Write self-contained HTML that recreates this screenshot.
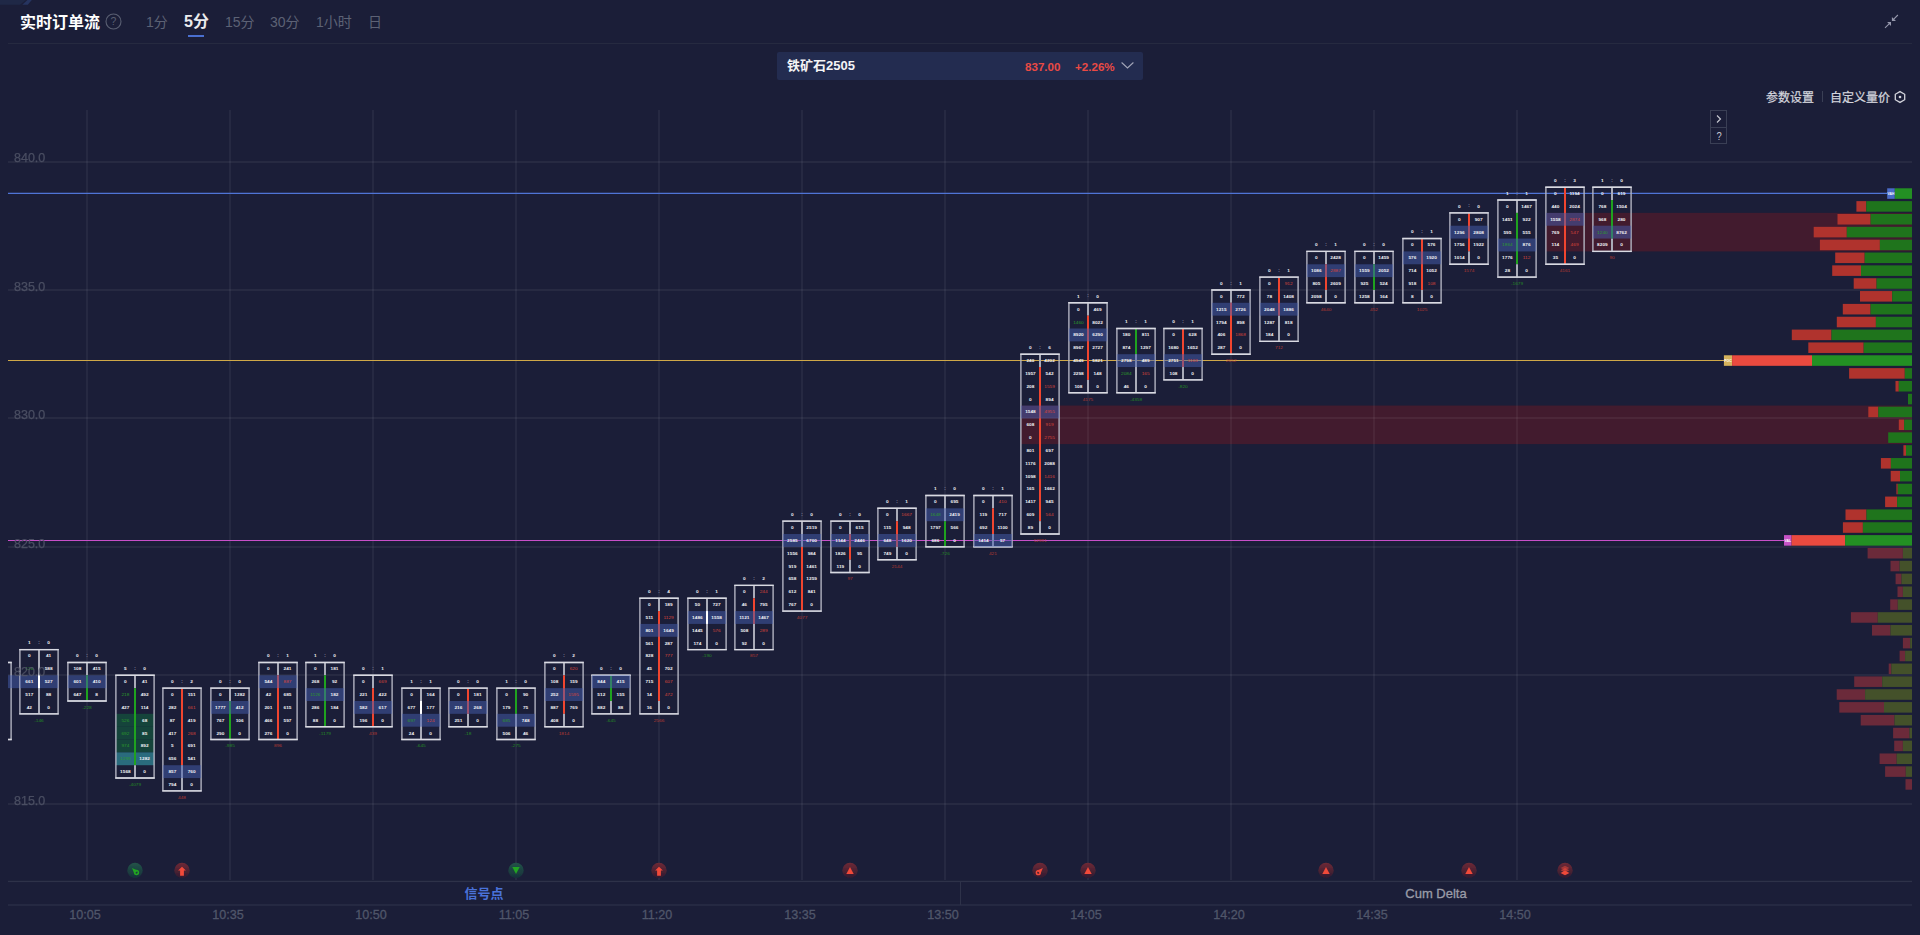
<!DOCTYPE html>
<html lang="zh-CN"><head><meta charset="utf-8"><title>实时订单流</title>
<style>
html,body{margin:0;padding:0}
body{width:1920px;height:935px;overflow:hidden;position:relative;background:#1b1e38;font-family:"Liberation Sans","Noto Sans CJK SC",sans-serif;color:#fff}
.abs{position:absolute;white-space:nowrap;line-height:1}
.chart{position:absolute;left:0;top:0}
.title{left:20px;top:15px;font-size:16px;font-weight:bold;color:#fff}
.tab{font-size:14px;color:#5d6275;top:15px}
.tab.on{font-size:16px;font-weight:bold;color:#ebebee;top:14px}
.hline{left:8px;top:43px;width:1904px;height:1px;background:#262a40}
.dd{left:777px;top:52px;width:366px;height:28px;background:#232c50;border-radius:2px}
.red{color:#ea4a44}
</style></head><body>
<svg class="abs" style="left:0;top:0" width="40" height="6" viewBox="0 0 40 6"><path d="M0 0H26L20 4.700H0Z" fill="#1f2846"/><path d="M27.400 0H31.800L27.800 4.700H22.300Z" fill="#26345f"/></svg>
<div class="abs title">实时订单流</div>
<svg class="abs" style="left:105.400px;top:13.300px" width="17" height="17" viewBox="0 0 17 17"><circle cx="8.5" cy="8.5" r="7.500" fill="none" stroke="#5a5f72" stroke-width="1.1"/><text x="8.5" y="12.2" font-size="10.5" text-anchor="middle" fill="#5a5f72" font-family="Liberation Sans, sans-serif">?</text></svg>
<div class="abs tab" style="left:146px">1分</div>
<div class="abs tab on" style="left:184px">5分</div>
<div class="abs" style="left:188px;top:35px;width:16px;height:2px;background:#4a6fd0"></div>
<div class="abs tab" style="left:225px">15分</div>
<div class="abs tab" style="left:270px">30分</div>
<div class="abs tab" style="left:316px">1小时</div>
<div class="abs tab" style="left:368px">日</div>
<svg class="abs" style="left:1883px;top:14px" width="16" height="16" viewBox="0 0 16 16"><path d="M14.900 1L10.500 5.400M2 13.900L6.400 9.600" stroke="#9698ac" stroke-width="1.1" fill="none"/><path d="M8.900 3V7H13Z M4.100 8.100H8V12Z" fill="#9698ac"/></svg>
<div class="abs hline"></div>
<div class="abs dd"></div>
<div class="abs" style="left:787px;top:59px;font-size:13px;font-weight:bold;color:#f3f3f5">铁矿石2505</div>
<div class="abs red" style="left:1025px;top:61px;font-size:11.6px;font-weight:bold">837.00</div>
<div class="abs red" style="left:1075px;top:61px;font-size:11.6px;font-weight:bold">+2.26%</div>
<svg class="abs" style="left:1121px;top:61px" width="13" height="9" viewBox="0 0 13 9"><path d="M0.600 1.500l5.900 5.500l5.900-5.500" fill="none" stroke="#a3a6b8" stroke-width="1.05"/></svg>
<div class="abs" style="left:1766px;top:92px;font-size:12px;color:#d3d4dc;-webkit-text-stroke:0.25px #d3d4dc">参数设置</div>
<div class="abs" style="left:1822px;top:91px;width:1px;height:11px;background:#3a3f55"></div>
<div class="abs" style="left:1830px;top:92px;font-size:12px;color:#d3d4dc;-webkit-text-stroke:0.25px #d3d4dc">自定义量价</div>
<svg class="abs" style="left:1893px;top:90px" width="14" height="14" viewBox="0 0 14 14"><path d="M7 1.600l4.700 2.700v5.400L7 12.400l-4.700-2.700V4.300z" fill="none" stroke="#d3d4dc" stroke-width="1.3"/><circle cx="7" cy="7" r="1.300" fill="#d3d4dc"/></svg>
<div class="abs" style="left:1710px;top:110px;width:17px;height:34px;border:1px solid #3a3f55;box-sizing:border-box"></div>
<div class="abs" style="left:1710px;top:127px;width:17px;height:1px;background:#3a3f55"></div>
<svg class="abs" style="left:1711px;top:111px" width="15" height="32" viewBox="0 0 15 32"><path d="M6 4.500l3.500 3.500l-3.500 3.500" fill="none" stroke="#c9cad3" stroke-width="1.1"/><text x="6.700" y="29.200" font-size="11" text-anchor="middle" fill="#c9cad3" transform="scale(0.85,1) translate(2.9,0)" font-family="Liberation Sans, sans-serif">?</text></svg>
<svg class="chart" width="1920" height="935" viewBox="0 0 1920 935" font-family="Liberation Sans, sans-serif">
<defs><clipPath id="cp"><rect x="8" y="100" width="1904" height="790"/></clipPath></defs>
<rect x="1545.9" y="212.88" width="366.1" height="38.54" fill="rgba(170,20,20,0.28)"/>
<rect x="1020.9" y="405.56" width="891.1" height="38.54" fill="rgba(170,20,20,0.28)"/>
<g shape-rendering="crispEdges">
<rect x="86" y="110" width="2" height="770" fill="rgba(255,255,255,0.05)"/>
<rect x="229" y="110" width="2" height="770" fill="rgba(255,255,255,0.05)"/>
<rect x="372" y="110" width="2" height="770" fill="rgba(255,255,255,0.05)"/>
<rect x="515" y="110" width="2" height="770" fill="rgba(255,255,255,0.05)"/>
<rect x="658" y="110" width="2" height="770" fill="rgba(255,255,255,0.05)"/>
<rect x="801" y="110" width="2" height="770" fill="rgba(255,255,255,0.05)"/>
<rect x="944" y="110" width="2" height="770" fill="rgba(255,255,255,0.05)"/>
<rect x="1087" y="110" width="2" height="770" fill="rgba(255,255,255,0.05)"/>
<rect x="1230" y="110" width="2" height="770" fill="rgba(255,255,255,0.05)"/>
<rect x="1373" y="110" width="2" height="770" fill="rgba(255,255,255,0.05)"/>
<rect x="1516" y="110" width="2" height="770" fill="rgba(255,255,255,0.05)"/>
<rect x="8" y="161" width="1904" height="2" fill="rgba(255,255,255,0.055)"/>
<rect x="8" y="289" width="1904" height="2" fill="rgba(255,255,255,0.055)"/>
<rect x="8" y="417" width="1904" height="2" fill="rgba(255,255,255,0.055)"/>
<rect x="8" y="546" width="1904" height="2" fill="rgba(255,255,255,0.055)"/>
<rect x="8" y="674" width="1904" height="2" fill="rgba(255,255,255,0.055)"/>
<rect x="8" y="803" width="1904" height="2" fill="rgba(255,255,255,0.055)"/>
</g>
<line x1="8" y1="193.4" x2="1888" y2="193.4" stroke="#4f74d6" stroke-width="1.1"/>
<line x1="8" y1="360.5" x2="1724" y2="360.5" stroke="#cfa848" stroke-width="1.1"/>
<line x1="8" y1="540.5" x2="1784" y2="540.5" stroke="#c84fc8" stroke-width="1.1"/>
<g clip-path="url(#cp)">
<rect x="-9.0" y="662.46" width="2" height="77.07" fill="#a9abb8"/>
<rect x="-27.1" y="662.46" width="38.2" height="77.07" fill="none" stroke="#b6b8c6" stroke-width="1.35"/>
<path d="M-27.75 662.46 h39.50 M-27.75 739.53 h39.50" stroke="#d9dae2" stroke-width="1.4" fill="none"/>
<rect x="-27.1" y="675.30" width="47.2" height="12.85" fill="rgba(69,94,174,0.5)"/>
<g font-size="4.10" font-weight="bold" text-anchor="middle" fill="#f2f2f5" transform="scale(1.160,1)">
<text x="-15.2" y="670.4">0</text>
<text x="1.4" y="670.4">12</text>
<text x="-15.2" y="683.2">318</text>
<text x="1.4" y="683.2">204</text>
<text x="-15.2" y="696.1">77</text>
<text x="1.4" y="696.1">95</text>
<text x="-15.2" y="708.9">120</text>
<text x="1.4" y="708.9">61</text>
<text x="-15.2" y="721.8">45</text>
<text x="1.4" y="721.8">33</text>
<text x="-15.2" y="734.6">9</text>
<text x="1.4" y="734.6">0</text>
<text x="-15.2" y="657.4">0</text><text x="-6.9" y="657.1" fill="#7d8096" font-size="5.2">:</text><text x="1.4" y="657.4">0</text>
</g>
<rect x="38.0" y="649.61" width="2" height="64.23" fill="#a9abb8"/>
<rect x="19.9" y="649.61" width="38.2" height="64.23" fill="none" stroke="#b6b8c6" stroke-width="1.35"/>
<path d="M19.25 649.61 h39.50 M19.25 713.84 h39.50" stroke="#d9dae2" stroke-width="1.4" fill="none"/>
<rect x="19.9" y="675.30" width="38.2" height="12.85" fill="rgba(69,94,174,0.5)"/>
<rect x="38.0" y="675.30" width="2" height="12.85" fill="#ffffff"/>
<g font-size="4.10" font-weight="bold" text-anchor="middle" fill="#f2f2f5" transform="scale(1.160,1)">
<text x="25.3" y="657.5">0</text>
<text x="41.9" y="657.5">41</text>
<text x="25.3" y="670.4" fill="#2b9a2b" font-weight="normal">126</text>
<text x="41.9" y="670.4">588</text>
<text x="25.3" y="683.2">661</text>
<text x="41.9" y="683.2">527</text>
<text x="25.3" y="696.1">517</text>
<text x="41.9" y="696.1">88</text>
<text x="25.3" y="708.9">42</text>
<text x="41.9" y="708.9">0</text>
<text x="25.3" y="644.5">1</text><text x="33.6" y="644.2" fill="#7d8096" font-size="5.2">:</text><text x="41.9" y="644.5">0</text>
</g>
<text x="33.6" y="721.7" font-size="4.10" text-anchor="middle" fill="#238a23" transform="scale(1.160,1)">-146</text>
<rect x="86.0" y="662.46" width="2" height="12.85" fill="#a9abb8"/>
<rect x="86.0" y="675.30" width="2" height="25.69" fill="#1fa21f"/>
<rect x="67.9" y="662.46" width="38.2" height="38.54" fill="none" stroke="#b6b8c6" stroke-width="1.35"/>
<path d="M67.25 662.46 h39.50 M67.25 700.99 h39.50" stroke="#d9dae2" stroke-width="1.4" fill="none"/>
<rect x="67.9" y="675.30" width="38.2" height="12.85" fill="rgba(69,94,174,0.5)"/>
<g font-size="4.10" font-weight="bold" text-anchor="middle" fill="#f2f2f5" transform="scale(1.160,1)">
<text x="66.7" y="670.4">108</text>
<text x="83.3" y="670.4">415</text>
<text x="66.7" y="683.2">601</text>
<text x="83.3" y="683.2">410</text>
<text x="66.7" y="696.1">647</text>
<text x="83.3" y="696.1">8</text>
<text x="66.7" y="657.4">0</text><text x="75.0" y="657.1" fill="#7d8096" font-size="5.2">:</text><text x="83.3" y="657.4">0</text>
</g>
<text x="75.0" y="708.9" font-size="4.10" text-anchor="middle" fill="#238a23" transform="scale(1.160,1)">-228</text>
<rect x="115.9" y="713.84" width="38.2" height="12.85" fill="#15443b"/>
<rect x="115.9" y="726.68" width="38.2" height="12.85" fill="#15443b"/>
<rect x="115.9" y="739.53" width="38.2" height="12.85" fill="#15443b"/>
<rect x="115.9" y="752.37" width="38.2" height="12.85" fill="#2a6b7d"/>
<rect x="134.0" y="675.30" width="2" height="12.85" fill="#a9abb8"/>
<rect x="134.0" y="688.15" width="2" height="77.07" fill="#1fa21f"/>
<rect x="134.0" y="765.22" width="2" height="12.85" fill="#a9abb8"/>
<rect x="115.9" y="675.30" width="38.2" height="102.76" fill="none" stroke="#b6b8c6" stroke-width="1.35"/>
<path d="M115.25 675.30 h39.50 M115.25 778.06 h39.50" stroke="#d9dae2" stroke-width="1.4" fill="none"/>
<g font-size="4.10" font-weight="bold" text-anchor="middle" fill="#f2f2f5" transform="scale(1.160,1)">
<text x="108.1" y="683.2">0</text>
<text x="124.7" y="683.2">41</text>
<text x="108.1" y="696.1" fill="#2b9a2b" font-weight="normal">218</text>
<text x="124.7" y="696.1">492</text>
<text x="108.1" y="708.9">427</text>
<text x="124.7" y="708.9">114</text>
<text x="108.1" y="721.8" fill="#2b9a2b" font-weight="normal">526</text>
<text x="124.7" y="721.8">68</text>
<text x="108.1" y="734.6" fill="#2b9a2b" font-weight="normal">692</text>
<text x="124.7" y="734.6">85</text>
<text x="108.1" y="747.4" fill="#2b9a2b" font-weight="normal">974</text>
<text x="124.7" y="747.4">892</text>
<text x="108.1" y="760.3" fill="#2b9a2b" font-weight="normal">1299</text>
<text x="124.7" y="760.3">1282</text>
<text x="108.1" y="773.1">1568</text>
<text x="124.7" y="773.1">0</text>
<text x="108.1" y="670.2">5</text><text x="116.4" y="669.9" fill="#7d8096" font-size="5.2">:</text><text x="124.7" y="670.2">0</text>
</g>
<text x="116.4" y="786.0" font-size="4.10" text-anchor="middle" fill="#238a23" transform="scale(1.160,1)">-4079</text>
<rect x="181.0" y="688.14" width="2" height="77.07" fill="#f0452f"/>
<rect x="181.0" y="765.22" width="2" height="25.69" fill="#a9abb8"/>
<rect x="162.9" y="688.14" width="38.2" height="102.76" fill="none" stroke="#b6b8c6" stroke-width="1.35"/>
<path d="M162.25 688.14 h39.50 M162.25 790.90 h39.50" stroke="#d9dae2" stroke-width="1.4" fill="none"/>
<rect x="162.9" y="765.22" width="38.2" height="12.85" fill="rgba(69,94,174,0.5)"/>
<g font-size="4.10" font-weight="bold" text-anchor="middle" fill="#f2f2f5" transform="scale(1.160,1)">
<text x="148.6" y="696.1">0</text>
<text x="165.2" y="696.1">151</text>
<text x="148.6" y="708.9">282</text>
<text x="165.2" y="708.9" fill="#d8453a" font-weight="normal">661</text>
<text x="148.6" y="721.8">87</text>
<text x="165.2" y="721.8">419</text>
<text x="148.6" y="734.6">417</text>
<text x="165.2" y="734.6" fill="#d8453a" font-weight="normal">268</text>
<text x="148.6" y="747.4">5</text>
<text x="165.2" y="747.4">691</text>
<text x="148.6" y="760.3">656</text>
<text x="165.2" y="760.3">541</text>
<text x="148.6" y="773.1">857</text>
<text x="165.2" y="773.1">760</text>
<text x="148.6" y="786.0">794</text>
<text x="165.2" y="786.0">0</text>
<text x="148.6" y="683.0">0</text><text x="156.9" y="682.7" fill="#7d8096" font-size="5.2">:</text><text x="165.2" y="683.0">2</text>
</g>
<text x="156.9" y="798.8" font-size="4.10" text-anchor="middle" fill="#b53a32" transform="scale(1.160,1)">448</text>
<rect x="229.0" y="688.14" width="2" height="12.85" fill="#a9abb8"/>
<rect x="229.0" y="700.99" width="2" height="38.54" fill="#1fa21f"/>
<rect x="210.9" y="688.14" width="38.2" height="51.38" fill="none" stroke="#b6b8c6" stroke-width="1.35"/>
<path d="M210.25 688.14 h39.50 M210.25 739.52 h39.50" stroke="#d9dae2" stroke-width="1.4" fill="none"/>
<rect x="210.9" y="700.99" width="38.2" height="12.85" fill="rgba(69,94,174,0.5)"/>
<g font-size="4.10" font-weight="bold" text-anchor="middle" fill="#f2f2f5" transform="scale(1.160,1)">
<text x="190.0" y="696.1">0</text>
<text x="206.6" y="696.1">1282</text>
<text x="190.0" y="708.9">1777</text>
<text x="206.6" y="708.9">412</text>
<text x="190.0" y="721.8">767</text>
<text x="206.6" y="721.8">106</text>
<text x="190.0" y="734.6">290</text>
<text x="206.6" y="734.6">0</text>
<text x="190.0" y="683.0">0</text><text x="198.3" y="682.7" fill="#7d8096" font-size="5.2">:</text><text x="206.6" y="683.0">0</text>
</g>
<text x="198.3" y="747.4" font-size="4.10" text-anchor="middle" fill="#238a23" transform="scale(1.160,1)">-985</text>
<rect x="277.0" y="662.46" width="2" height="12.85" fill="#a9abb8"/>
<rect x="277.0" y="675.30" width="2" height="64.23" fill="#f0452f"/>
<rect x="258.9" y="662.46" width="38.2" height="77.07" fill="none" stroke="#b6b8c6" stroke-width="1.35"/>
<path d="M258.25 662.46 h39.50 M258.25 739.53 h39.50" stroke="#d9dae2" stroke-width="1.4" fill="none"/>
<rect x="258.9" y="675.30" width="38.2" height="12.85" fill="rgba(69,94,174,0.5)"/>
<g font-size="4.10" font-weight="bold" text-anchor="middle" fill="#f2f2f5" transform="scale(1.160,1)">
<text x="231.4" y="670.4">0</text>
<text x="247.9" y="670.4">241</text>
<text x="231.4" y="683.2">544</text>
<text x="247.9" y="683.2" fill="#d8453a" font-weight="normal">887</text>
<text x="231.4" y="696.1">42</text>
<text x="247.9" y="696.1">685</text>
<text x="231.4" y="708.9">201</text>
<text x="247.9" y="708.9">615</text>
<text x="231.4" y="721.8">466</text>
<text x="247.9" y="721.8">597</text>
<text x="231.4" y="734.6">276</text>
<text x="247.9" y="734.6">0</text>
<text x="231.4" y="657.4">0</text><text x="239.7" y="657.1" fill="#7d8096" font-size="5.2">:</text><text x="247.9" y="657.4">1</text>
</g>
<text x="239.7" y="747.4" font-size="4.10" text-anchor="middle" fill="#b53a32" transform="scale(1.160,1)">896</text>
<rect x="324.0" y="662.46" width="2" height="12.85" fill="#a9abb8"/>
<rect x="324.0" y="675.30" width="2" height="51.38" fill="#1fa21f"/>
<rect x="305.9" y="662.46" width="38.2" height="64.23" fill="none" stroke="#b6b8c6" stroke-width="1.35"/>
<path d="M305.25 662.46 h39.50 M305.25 726.68 h39.50" stroke="#d9dae2" stroke-width="1.4" fill="none"/>
<rect x="305.9" y="688.15" width="38.2" height="12.85" fill="rgba(69,94,174,0.5)"/>
<g font-size="4.10" font-weight="bold" text-anchor="middle" fill="#f2f2f5" transform="scale(1.160,1)">
<text x="271.9" y="670.4">0</text>
<text x="288.4" y="670.4">181</text>
<text x="271.9" y="683.2">268</text>
<text x="288.4" y="683.2">92</text>
<text x="271.9" y="696.1" fill="#2b9a2b" font-weight="normal">1126</text>
<text x="288.4" y="696.1">182</text>
<text x="271.9" y="708.9">286</text>
<text x="288.4" y="708.9">184</text>
<text x="271.9" y="721.8">88</text>
<text x="288.4" y="721.8">0</text>
<text x="271.9" y="657.4">1</text><text x="280.2" y="657.1" fill="#7d8096" font-size="5.2">:</text><text x="288.4" y="657.4">0</text>
</g>
<text x="280.2" y="734.6" font-size="4.10" text-anchor="middle" fill="#238a23" transform="scale(1.160,1)">-1179</text>
<rect x="372.0" y="675.30" width="2" height="12.85" fill="#a9abb8"/>
<rect x="372.0" y="688.15" width="2" height="38.54" fill="#f0452f"/>
<rect x="353.9" y="675.30" width="38.2" height="51.38" fill="none" stroke="#b6b8c6" stroke-width="1.35"/>
<path d="M353.25 675.30 h39.50 M353.25 726.68 h39.50" stroke="#d9dae2" stroke-width="1.4" fill="none"/>
<rect x="353.9" y="700.99" width="38.2" height="12.85" fill="rgba(69,94,174,0.5)"/>
<g font-size="4.10" font-weight="bold" text-anchor="middle" fill="#f2f2f5" transform="scale(1.160,1)">
<text x="313.3" y="683.2">0</text>
<text x="329.8" y="683.2" fill="#d8453a" font-weight="normal">669</text>
<text x="313.3" y="696.1">221</text>
<text x="329.8" y="696.1">422</text>
<text x="313.3" y="708.9">582</text>
<text x="329.8" y="708.9">617</text>
<text x="313.3" y="721.8">196</text>
<text x="329.8" y="721.8">0</text>
<text x="313.3" y="670.2">0</text><text x="321.6" y="669.9" fill="#7d8096" font-size="5.2">:</text><text x="329.8" y="670.2">1</text>
</g>
<text x="321.6" y="734.6" font-size="4.10" text-anchor="middle" fill="#b53a32" transform="scale(1.160,1)">439</text>
<rect x="420.0" y="688.14" width="2" height="51.38" fill="#a9abb8"/>
<rect x="401.9" y="688.14" width="38.2" height="51.38" fill="none" stroke="#b6b8c6" stroke-width="1.35"/>
<path d="M401.25 688.14 h39.50 M401.25 739.52 h39.50" stroke="#d9dae2" stroke-width="1.4" fill="none"/>
<rect x="401.9" y="713.84" width="38.2" height="12.85" fill="rgba(69,94,174,0.5)"/>
<rect x="420.0" y="700.99" width="2" height="12.85" fill="#ffffff"/>
<g font-size="4.10" font-weight="bold" text-anchor="middle" fill="#f2f2f5" transform="scale(1.160,1)">
<text x="354.7" y="696.1">0</text>
<text x="371.2" y="696.1">164</text>
<text x="354.7" y="708.9">677</text>
<text x="371.2" y="708.9">177</text>
<text x="354.7" y="721.8" fill="#2b9a2b" font-weight="normal">697</text>
<text x="371.2" y="721.8" fill="#d8453a" font-weight="normal">124</text>
<text x="354.7" y="734.6">24</text>
<text x="371.2" y="734.6">0</text>
<text x="354.7" y="683.0">1</text><text x="362.9" y="682.7" fill="#7d8096" font-size="5.2">:</text><text x="371.2" y="683.0">1</text>
</g>
<text x="362.9" y="747.4" font-size="4.10" text-anchor="middle" fill="#238a23" transform="scale(1.160,1)">-645</text>
<rect x="467.0" y="688.14" width="2" height="25.69" fill="#f0452f"/>
<rect x="467.0" y="713.84" width="2" height="12.85" fill="#a9abb8"/>
<rect x="448.9" y="688.14" width="38.2" height="38.54" fill="none" stroke="#b6b8c6" stroke-width="1.35"/>
<path d="M448.25 688.14 h39.50 M448.25 726.68 h39.50" stroke="#d9dae2" stroke-width="1.4" fill="none"/>
<rect x="448.9" y="700.99" width="38.2" height="12.85" fill="rgba(69,94,174,0.5)"/>
<g font-size="4.10" font-weight="bold" text-anchor="middle" fill="#f2f2f5" transform="scale(1.160,1)">
<text x="395.2" y="696.1">0</text>
<text x="411.7" y="696.1">181</text>
<text x="395.2" y="708.9">216</text>
<text x="411.7" y="708.9">268</text>
<text x="395.2" y="721.8">251</text>
<text x="411.7" y="721.8">0</text>
<text x="395.2" y="683.0">0</text><text x="403.4" y="682.7" fill="#7d8096" font-size="5.2">:</text><text x="411.7" y="683.0">0</text>
</g>
<text x="403.4" y="734.6" font-size="4.10" text-anchor="middle" fill="#238a23" transform="scale(1.160,1)">-18</text>
<rect x="515.0" y="688.14" width="2" height="25.69" fill="#1fa21f"/>
<rect x="515.0" y="713.84" width="2" height="25.69" fill="#a9abb8"/>
<rect x="496.9" y="688.14" width="38.2" height="51.38" fill="none" stroke="#b6b8c6" stroke-width="1.35"/>
<path d="M496.25 688.14 h39.50 M496.25 739.52 h39.50" stroke="#d9dae2" stroke-width="1.4" fill="none"/>
<rect x="496.9" y="713.84" width="38.2" height="12.85" fill="rgba(69,94,174,0.5)"/>
<g font-size="4.10" font-weight="bold" text-anchor="middle" fill="#f2f2f5" transform="scale(1.160,1)">
<text x="436.6" y="696.1">0</text>
<text x="453.1" y="696.1">90</text>
<text x="436.6" y="708.9">179</text>
<text x="453.1" y="708.9">75</text>
<text x="436.6" y="721.8" fill="#2b9a2b" font-weight="normal">685</text>
<text x="453.1" y="721.8">748</text>
<text x="436.6" y="734.6">506</text>
<text x="453.1" y="734.6">46</text>
<text x="436.6" y="683.0">1</text><text x="444.8" y="682.7" fill="#7d8096" font-size="5.2">:</text><text x="453.1" y="683.0">0</text>
</g>
<text x="444.8" y="747.4" font-size="4.10" text-anchor="middle" fill="#238a23" transform="scale(1.160,1)">-275</text>
<rect x="563.0" y="662.46" width="2" height="12.85" fill="#a9abb8"/>
<rect x="563.0" y="675.30" width="2" height="38.54" fill="#f0452f"/>
<rect x="563.0" y="713.84" width="2" height="12.85" fill="#a9abb8"/>
<rect x="544.9" y="662.46" width="38.2" height="64.23" fill="none" stroke="#b6b8c6" stroke-width="1.35"/>
<path d="M544.25 662.46 h39.50 M544.25 726.68 h39.50" stroke="#d9dae2" stroke-width="1.4" fill="none"/>
<rect x="544.9" y="688.15" width="38.2" height="12.85" fill="rgba(69,94,174,0.5)"/>
<g font-size="4.10" font-weight="bold" text-anchor="middle" fill="#f2f2f5" transform="scale(1.160,1)">
<text x="477.9" y="670.4">0</text>
<text x="494.5" y="670.4" fill="#d8453a" font-weight="normal">620</text>
<text x="477.9" y="683.2">108</text>
<text x="494.5" y="683.2">159</text>
<text x="477.9" y="696.1">252</text>
<text x="494.5" y="696.1" fill="#d8453a" font-weight="normal">1595</text>
<text x="477.9" y="708.9">887</text>
<text x="494.5" y="708.9">769</text>
<text x="477.9" y="721.8">408</text>
<text x="494.5" y="721.8">0</text>
<text x="477.9" y="657.4">0</text><text x="486.2" y="657.1" fill="#7d8096" font-size="5.2">:</text><text x="494.5" y="657.4">2</text>
</g>
<text x="486.2" y="734.6" font-size="4.10" text-anchor="middle" fill="#b53a32" transform="scale(1.160,1)">1814</text>
<rect x="610.0" y="675.30" width="2" height="25.69" fill="#1fa21f"/>
<rect x="610.0" y="700.99" width="2" height="12.85" fill="#a9abb8"/>
<rect x="591.9" y="675.30" width="38.2" height="38.54" fill="none" stroke="#b6b8c6" stroke-width="1.35"/>
<path d="M591.25 675.30 h39.50 M591.25 713.84 h39.50" stroke="#d9dae2" stroke-width="1.4" fill="none"/>
<rect x="591.9" y="675.30" width="38.2" height="12.85" fill="rgba(69,94,174,0.5)"/>
<g font-size="4.10" font-weight="bold" text-anchor="middle" fill="#f2f2f5" transform="scale(1.160,1)">
<text x="518.4" y="683.2">844</text>
<text x="535.0" y="683.2">415</text>
<text x="518.4" y="696.1">512</text>
<text x="535.0" y="696.1">155</text>
<text x="518.4" y="708.9">882</text>
<text x="535.0" y="708.9">88</text>
<text x="518.4" y="670.2">0</text><text x="526.7" y="669.9" fill="#7d8096" font-size="5.2">:</text><text x="535.0" y="670.2">0</text>
</g>
<text x="526.7" y="721.7" font-size="4.10" text-anchor="middle" fill="#238a23" transform="scale(1.160,1)">-645</text>
<rect x="658.0" y="598.23" width="2" height="12.85" fill="#a9abb8"/>
<rect x="658.0" y="611.08" width="2" height="89.92" fill="#f0452f"/>
<rect x="658.0" y="700.99" width="2" height="12.85" fill="#a9abb8"/>
<rect x="639.9" y="598.23" width="38.2" height="115.61" fill="none" stroke="#b6b8c6" stroke-width="1.35"/>
<path d="M639.25 598.23 h39.50 M639.25 713.84 h39.50" stroke="#d9dae2" stroke-width="1.4" fill="none"/>
<rect x="639.9" y="623.92" width="38.2" height="12.85" fill="rgba(69,94,174,0.5)"/>
<g font-size="4.10" font-weight="bold" text-anchor="middle" fill="#f2f2f5" transform="scale(1.160,1)">
<text x="559.8" y="606.2">0</text>
<text x="576.4" y="606.2">189</text>
<text x="559.8" y="619.0">511</text>
<text x="576.4" y="619.0" fill="#d8453a" font-weight="normal">1129</text>
<text x="559.8" y="631.8">801</text>
<text x="576.4" y="631.8">1649</text>
<text x="559.8" y="644.7">561</text>
<text x="576.4" y="644.7">287</text>
<text x="559.8" y="657.5">828</text>
<text x="576.4" y="657.5" fill="#d8453a" font-weight="normal">777</text>
<text x="559.8" y="670.4">45</text>
<text x="576.4" y="670.4">702</text>
<text x="559.8" y="683.2">715</text>
<text x="576.4" y="683.2" fill="#d8453a" font-weight="normal">607</text>
<text x="559.8" y="696.1">14</text>
<text x="576.4" y="696.1" fill="#d8453a" font-weight="normal">472</text>
<text x="559.8" y="708.9">16</text>
<text x="576.4" y="708.9">0</text>
<text x="559.8" y="593.1">0</text><text x="568.1" y="592.8" fill="#7d8096" font-size="5.2">:</text><text x="576.4" y="593.1">4</text>
</g>
<text x="568.1" y="721.7" font-size="4.10" text-anchor="middle" fill="#b53a32" transform="scale(1.160,1)">2566</text>
<rect x="706.0" y="598.23" width="2" height="51.38" fill="#a9abb8"/>
<rect x="687.9" y="598.23" width="38.2" height="51.38" fill="none" stroke="#b6b8c6" stroke-width="1.35"/>
<path d="M687.25 598.23 h39.50 M687.25 649.61 h39.50" stroke="#d9dae2" stroke-width="1.4" fill="none"/>
<rect x="687.9" y="611.08" width="38.2" height="12.85" fill="rgba(69,94,174,0.5)"/>
<rect x="706.0" y="611.08" width="2" height="12.85" fill="#ffffff"/>
<g font-size="4.10" font-weight="bold" text-anchor="middle" fill="#f2f2f5" transform="scale(1.160,1)">
<text x="601.2" y="606.2">50</text>
<text x="617.8" y="606.2">727</text>
<text x="601.2" y="619.0">1486</text>
<text x="617.8" y="619.0">1558</text>
<text x="601.2" y="631.8">1445</text>
<text x="617.8" y="631.8" fill="#d8453a" font-weight="normal">576</text>
<text x="601.2" y="644.7">174</text>
<text x="617.8" y="644.7">0</text>
<text x="601.2" y="593.1">0</text><text x="609.5" y="592.8" fill="#7d8096" font-size="5.2">:</text><text x="617.8" y="593.1">1</text>
</g>
<text x="609.5" y="657.5" font-size="4.10" text-anchor="middle" fill="#238a23" transform="scale(1.160,1)">-190</text>
<rect x="753.0" y="585.38" width="2" height="12.85" fill="#a9abb8"/>
<rect x="753.0" y="598.23" width="2" height="25.69" fill="#f0452f"/>
<rect x="753.0" y="623.92" width="2" height="25.69" fill="#a9abb8"/>
<rect x="734.9" y="585.38" width="38.2" height="64.23" fill="none" stroke="#b6b8c6" stroke-width="1.35"/>
<path d="M734.25 585.38 h39.50 M734.25 649.61 h39.50" stroke="#d9dae2" stroke-width="1.4" fill="none"/>
<rect x="734.9" y="611.08" width="38.2" height="12.85" fill="rgba(69,94,174,0.5)"/>
<g font-size="4.10" font-weight="bold" text-anchor="middle" fill="#f2f2f5" transform="scale(1.160,1)">
<text x="641.7" y="593.3">0</text>
<text x="658.3" y="593.3" fill="#d8453a" font-weight="normal">244</text>
<text x="641.7" y="606.2">46</text>
<text x="658.3" y="606.2">795</text>
<text x="641.7" y="619.0">1121</text>
<text x="658.3" y="619.0">1467</text>
<text x="641.7" y="631.8">508</text>
<text x="658.3" y="631.8" fill="#d8453a" font-weight="normal">289</text>
<text x="641.7" y="644.7">92</text>
<text x="658.3" y="644.7">0</text>
<text x="641.7" y="580.3">0</text><text x="650.0" y="580.0" fill="#7d8096" font-size="5.2">:</text><text x="658.3" y="580.3">2</text>
</g>
<text x="650.0" y="657.5" font-size="4.10" text-anchor="middle" fill="#b53a32" transform="scale(1.160,1)">857</text>
<rect x="801.0" y="521.16" width="2" height="25.69" fill="#a9abb8"/>
<rect x="801.0" y="546.85" width="2" height="64.23" fill="#f0452f"/>
<rect x="782.9" y="521.16" width="38.2" height="89.92" fill="none" stroke="#b6b8c6" stroke-width="1.35"/>
<path d="M782.25 521.16 h39.50 M782.25 611.08 h39.50" stroke="#d9dae2" stroke-width="1.4" fill="none"/>
<rect x="782.9" y="534.01" width="38.2" height="12.85" fill="rgba(69,94,174,0.5)"/>
<g font-size="4.10" font-weight="bold" text-anchor="middle" fill="#f2f2f5" transform="scale(1.160,1)">
<text x="683.1" y="529.1">0</text>
<text x="699.7" y="529.1">2519</text>
<text x="683.1" y="541.9">2585</text>
<text x="699.7" y="541.9">6700</text>
<text x="683.1" y="554.8">1556</text>
<text x="699.7" y="554.8">984</text>
<text x="683.1" y="567.6">919</text>
<text x="699.7" y="567.6">1461</text>
<text x="683.1" y="580.5">658</text>
<text x="699.7" y="580.5">1259</text>
<text x="683.1" y="593.3">612</text>
<text x="699.7" y="593.3">841</text>
<text x="683.1" y="606.2">767</text>
<text x="699.7" y="606.2">0</text>
<text x="683.1" y="516.1">0</text><text x="691.4" y="515.8" fill="#7d8096" font-size="5.2">:</text><text x="699.7" y="516.1">0</text>
</g>
<text x="691.4" y="619.0" font-size="4.10" text-anchor="middle" fill="#b53a32" transform="scale(1.160,1)">4077</text>
<rect x="849.0" y="521.16" width="2" height="12.85" fill="#a9abb8"/>
<rect x="849.0" y="534.01" width="2" height="25.69" fill="#f0452f"/>
<rect x="849.0" y="559.70" width="2" height="12.85" fill="#a9abb8"/>
<rect x="830.9" y="521.16" width="38.2" height="51.38" fill="none" stroke="#b6b8c6" stroke-width="1.35"/>
<path d="M830.25 521.16 h39.50 M830.25 572.54 h39.50" stroke="#d9dae2" stroke-width="1.4" fill="none"/>
<rect x="830.9" y="534.01" width="38.2" height="12.85" fill="rgba(69,94,174,0.5)"/>
<g font-size="4.10" font-weight="bold" text-anchor="middle" fill="#f2f2f5" transform="scale(1.160,1)">
<text x="724.5" y="529.1">0</text>
<text x="741.0" y="529.1">615</text>
<text x="724.5" y="541.9">1144</text>
<text x="741.0" y="541.9">2446</text>
<text x="724.5" y="554.8">1826</text>
<text x="741.0" y="554.8">95</text>
<text x="724.5" y="567.6">119</text>
<text x="741.0" y="567.6">0</text>
<text x="724.5" y="516.1">0</text><text x="732.8" y="515.8" fill="#7d8096" font-size="5.2">:</text><text x="741.0" y="516.1">0</text>
</g>
<text x="732.8" y="580.4" font-size="4.10" text-anchor="middle" fill="#b53a32" transform="scale(1.160,1)">97</text>
<rect x="896.0" y="508.31" width="2" height="12.85" fill="#a9abb8"/>
<rect x="896.0" y="521.16" width="2" height="25.69" fill="#f0452f"/>
<rect x="896.0" y="546.85" width="2" height="12.85" fill="#a9abb8"/>
<rect x="877.9" y="508.31" width="38.2" height="51.38" fill="none" stroke="#b6b8c6" stroke-width="1.35"/>
<path d="M877.25 508.31 h39.50 M877.25 559.70 h39.50" stroke="#d9dae2" stroke-width="1.4" fill="none"/>
<rect x="877.9" y="534.00" width="38.2" height="12.85" fill="rgba(69,94,174,0.5)"/>
<g font-size="4.10" font-weight="bold" text-anchor="middle" fill="#f2f2f5" transform="scale(1.160,1)">
<text x="765.0" y="516.2">0</text>
<text x="781.6" y="516.2" fill="#d8453a" font-weight="normal">1667</text>
<text x="765.0" y="529.1">115</text>
<text x="781.6" y="529.1">948</text>
<text x="765.0" y="541.9">648</text>
<text x="781.6" y="541.9">1620</text>
<text x="765.0" y="554.8">749</text>
<text x="781.6" y="554.8">0</text>
<text x="765.0" y="503.2">0</text><text x="773.3" y="502.9" fill="#7d8096" font-size="5.2">:</text><text x="781.6" y="503.2">1</text>
</g>
<text x="773.3" y="567.6" font-size="4.10" text-anchor="middle" fill="#b53a32" transform="scale(1.160,1)">2144</text>
<rect x="944.0" y="495.47" width="2" height="25.69" fill="#a9abb8"/>
<rect x="944.0" y="521.16" width="2" height="25.69" fill="#1fa21f"/>
<rect x="925.9" y="495.47" width="38.2" height="51.38" fill="none" stroke="#b6b8c6" stroke-width="1.35"/>
<path d="M925.25 495.47 h39.50 M925.25 546.85 h39.50" stroke="#d9dae2" stroke-width="1.4" fill="none"/>
<rect x="925.9" y="508.32" width="38.2" height="12.85" fill="rgba(69,94,174,0.5)"/>
<g font-size="4.10" font-weight="bold" text-anchor="middle" fill="#f2f2f5" transform="scale(1.160,1)">
<text x="806.4" y="503.4">0</text>
<text x="822.9" y="503.4">695</text>
<text x="806.4" y="516.2" fill="#2b9a2b" font-weight="normal">1648</text>
<text x="822.9" y="516.2">2419</text>
<text x="806.4" y="529.1">1797</text>
<text x="822.9" y="529.1">566</text>
<text x="806.4" y="541.9">686</text>
<text x="822.9" y="541.9">0</text>
<text x="806.4" y="490.4">1</text><text x="814.7" y="490.1" fill="#7d8096" font-size="5.2">:</text><text x="822.9" y="490.4">0</text>
</g>
<text x="814.7" y="554.8" font-size="4.10" text-anchor="middle" fill="#238a23" transform="scale(1.160,1)">-726</text>
<rect x="992.0" y="495.47" width="2" height="12.85" fill="#a9abb8"/>
<rect x="992.0" y="508.32" width="2" height="25.69" fill="#f0452f"/>
<rect x="992.0" y="534.00" width="2" height="12.85" fill="#a9abb8"/>
<rect x="973.9" y="495.47" width="38.2" height="51.38" fill="none" stroke="#b6b8c6" stroke-width="1.35"/>
<path d="M973.25 495.47 h39.50 M973.25 546.85 h39.50" stroke="#d9dae2" stroke-width="1.4" fill="none"/>
<rect x="973.9" y="534.00" width="38.2" height="12.85" fill="rgba(69,94,174,0.5)"/>
<g font-size="4.10" font-weight="bold" text-anchor="middle" fill="#f2f2f5" transform="scale(1.160,1)">
<text x="847.8" y="503.4">0</text>
<text x="864.3" y="503.4" fill="#d8453a" font-weight="normal">410</text>
<text x="847.8" y="516.2">119</text>
<text x="864.3" y="516.2">717</text>
<text x="847.8" y="529.1">692</text>
<text x="864.3" y="529.1">1100</text>
<text x="847.8" y="541.9">1414</text>
<text x="864.3" y="541.9">57</text>
<text x="847.8" y="490.4">0</text><text x="856.0" y="490.1" fill="#7d8096" font-size="5.2">:</text><text x="864.3" y="490.4">1</text>
</g>
<text x="856.0" y="554.8" font-size="4.10" text-anchor="middle" fill="#b53a32" transform="scale(1.160,1)">421</text>
<rect x="1039.0" y="354.18" width="2" height="12.85" fill="#a9abb8"/>
<rect x="1039.0" y="367.02" width="2" height="154.14" fill="#f0452f"/>
<rect x="1039.0" y="521.16" width="2" height="12.85" fill="#a9abb8"/>
<rect x="1020.9" y="354.18" width="38.2" height="179.83" fill="none" stroke="#b6b8c6" stroke-width="1.35"/>
<path d="M1020.25 354.18 h39.50 M1020.25 534.00 h39.50" stroke="#d9dae2" stroke-width="1.4" fill="none"/>
<rect x="1020.9" y="405.56" width="38.2" height="12.85" fill="rgba(69,94,174,0.5)"/>
<g font-size="4.10" font-weight="bold" text-anchor="middle" fill="#f2f2f5" transform="scale(1.160,1)">
<text x="888.3" y="362.1">240</text>
<text x="904.8" y="362.1">4202</text>
<text x="888.3" y="374.9">1957</text>
<text x="904.8" y="374.9">542</text>
<text x="888.3" y="387.8">208</text>
<text x="904.8" y="387.8" fill="#d8453a" font-weight="normal">1559</text>
<text x="888.3" y="400.6">0</text>
<text x="904.8" y="400.6">894</text>
<text x="888.3" y="413.5">1548</text>
<text x="904.8" y="413.5" fill="#d8453a" font-weight="normal">4955</text>
<text x="888.3" y="426.3">608</text>
<text x="904.8" y="426.3" fill="#d8453a" font-weight="normal">919</text>
<text x="888.3" y="439.2">0</text>
<text x="904.8" y="439.2" fill="#d8453a" font-weight="normal">2755</text>
<text x="888.3" y="452.0">801</text>
<text x="904.8" y="452.0">697</text>
<text x="888.3" y="464.9">1176</text>
<text x="904.8" y="464.9">2088</text>
<text x="888.3" y="477.7">1098</text>
<text x="904.8" y="477.7" fill="#d8453a" font-weight="normal">1416</text>
<text x="888.3" y="490.5">165</text>
<text x="904.8" y="490.5">1662</text>
<text x="888.3" y="503.4">1417</text>
<text x="904.8" y="503.4">945</text>
<text x="888.3" y="516.2">609</text>
<text x="904.8" y="516.2" fill="#d8453a" font-weight="normal">564</text>
<text x="888.3" y="529.1">89</text>
<text x="904.8" y="529.1">0</text>
<text x="888.3" y="349.1">0</text><text x="896.6" y="348.8" fill="#7d8096" font-size="5.2">:</text><text x="904.8" y="349.1">6</text>
</g>
<text x="896.6" y="541.9" font-size="4.10" text-anchor="middle" fill="#b53a32" transform="scale(1.160,1)">12991</text>
<rect x="1087.0" y="302.80" width="2" height="12.85" fill="#a9abb8"/>
<rect x="1087.0" y="315.64" width="2" height="64.23" fill="#f0452f"/>
<rect x="1087.0" y="379.87" width="2" height="12.85" fill="#a9abb8"/>
<rect x="1068.9" y="302.80" width="38.2" height="89.92" fill="none" stroke="#b6b8c6" stroke-width="1.35"/>
<path d="M1068.25 302.80 h39.50 M1068.25 392.71 h39.50" stroke="#d9dae2" stroke-width="1.4" fill="none"/>
<rect x="1068.9" y="328.49" width="38.2" height="12.85" fill="rgba(69,94,174,0.5)"/>
<g font-size="4.10" font-weight="bold" text-anchor="middle" fill="#f2f2f5" transform="scale(1.160,1)">
<text x="929.7" y="310.7">0</text>
<text x="946.2" y="310.7">469</text>
<text x="929.7" y="323.6" fill="#2b9a2b" font-weight="normal">1460</text>
<text x="946.2" y="323.6">8022</text>
<text x="929.7" y="336.4">8920</text>
<text x="946.2" y="336.4">6290</text>
<text x="929.7" y="349.3">8967</text>
<text x="946.2" y="349.3">2727</text>
<text x="929.7" y="362.1">4549</text>
<text x="946.2" y="362.1">5821</text>
<text x="929.7" y="374.9">2298</text>
<text x="946.2" y="374.9">148</text>
<text x="929.7" y="387.8">108</text>
<text x="946.2" y="387.8">0</text>
<text x="929.7" y="297.7">1</text><text x="937.9" y="297.4" fill="#7d8096" font-size="5.2">:</text><text x="946.2" y="297.7">0</text>
</g>
<text x="937.9" y="400.6" font-size="4.10" text-anchor="middle" fill="#b53a32" transform="scale(1.160,1)">4175</text>
<rect x="1135.0" y="328.49" width="2" height="25.69" fill="#1fa21f"/>
<rect x="1135.0" y="354.18" width="2" height="38.54" fill="#a9abb8"/>
<rect x="1116.9" y="328.49" width="38.2" height="64.23" fill="none" stroke="#b6b8c6" stroke-width="1.35"/>
<path d="M1116.25 328.49 h39.50 M1116.25 392.71 h39.50" stroke="#d9dae2" stroke-width="1.4" fill="none"/>
<rect x="1116.9" y="354.18" width="38.2" height="12.85" fill="rgba(69,94,174,0.5)"/>
<g font-size="4.10" font-weight="bold" text-anchor="middle" fill="#f2f2f5" transform="scale(1.160,1)">
<text x="971.0" y="336.4">180</text>
<text x="987.6" y="336.4">811</text>
<text x="971.0" y="349.3">874</text>
<text x="987.6" y="349.3">1297</text>
<text x="971.0" y="362.1">2798</text>
<text x="987.6" y="362.1">489</text>
<text x="971.0" y="374.9" fill="#2b9a2b" font-weight="normal">2084</text>
<text x="987.6" y="374.9" fill="#d8453a" font-weight="normal">165</text>
<text x="971.0" y="387.8">46</text>
<text x="987.6" y="387.8">0</text>
<text x="971.0" y="323.4">1</text><text x="979.3" y="323.1" fill="#7d8096" font-size="5.2">:</text><text x="987.6" y="323.4">1</text>
</g>
<text x="979.3" y="400.6" font-size="4.10" text-anchor="middle" fill="#238a23" transform="scale(1.160,1)">-4358</text>
<rect x="1182.0" y="328.49" width="2" height="38.54" fill="#f0452f"/>
<rect x="1182.0" y="367.02" width="2" height="12.85" fill="#a9abb8"/>
<rect x="1163.9" y="328.49" width="38.2" height="51.38" fill="none" stroke="#b6b8c6" stroke-width="1.35"/>
<path d="M1163.25 328.49 h39.50 M1163.25 379.87 h39.50" stroke="#d9dae2" stroke-width="1.4" fill="none"/>
<rect x="1163.9" y="354.18" width="38.2" height="12.85" fill="rgba(69,94,174,0.5)"/>
<g font-size="4.10" font-weight="bold" text-anchor="middle" fill="#f2f2f5" transform="scale(1.160,1)">
<text x="1011.6" y="336.4">0</text>
<text x="1028.1" y="336.4">628</text>
<text x="1011.6" y="349.3">1680</text>
<text x="1028.1" y="349.3">1652</text>
<text x="1011.6" y="362.1">2751</text>
<text x="1028.1" y="362.1" fill="#d8453a" font-weight="normal">1163</text>
<text x="1011.6" y="374.9">108</text>
<text x="1028.1" y="374.9">0</text>
<text x="1011.6" y="323.4">0</text><text x="1019.8" y="323.1" fill="#7d8096" font-size="5.2">:</text><text x="1028.1" y="323.4">1</text>
</g>
<text x="1019.8" y="387.8" font-size="4.10" text-anchor="middle" fill="#238a23" transform="scale(1.160,1)">-820</text>
<rect x="1230.0" y="289.95" width="2" height="12.85" fill="#a9abb8"/>
<rect x="1230.0" y="302.80" width="2" height="51.38" fill="#f0452f"/>
<rect x="1211.9" y="289.95" width="38.2" height="64.23" fill="none" stroke="#b6b8c6" stroke-width="1.35"/>
<path d="M1211.25 289.95 h39.50 M1211.25 354.18 h39.50" stroke="#d9dae2" stroke-width="1.4" fill="none"/>
<rect x="1211.9" y="302.80" width="38.2" height="12.85" fill="rgba(69,94,174,0.5)"/>
<g font-size="4.10" font-weight="bold" text-anchor="middle" fill="#f2f2f5" transform="scale(1.160,1)">
<text x="1052.9" y="297.9">0</text>
<text x="1069.5" y="297.9">772</text>
<text x="1052.9" y="310.7">1215</text>
<text x="1069.5" y="310.7">2726</text>
<text x="1052.9" y="323.6">1794</text>
<text x="1069.5" y="323.6">898</text>
<text x="1052.9" y="336.4">406</text>
<text x="1069.5" y="336.4" fill="#d8453a" font-weight="normal">1868</text>
<text x="1052.9" y="349.3">287</text>
<text x="1069.5" y="349.3">0</text>
<text x="1052.9" y="284.9">0</text><text x="1061.2" y="284.6" fill="#7d8096" font-size="5.2">:</text><text x="1069.5" y="284.9">1</text>
</g>
<text x="1061.2" y="362.1" font-size="4.10" text-anchor="middle" fill="#b53a32" transform="scale(1.160,1)">2652</text>
<rect x="1278.0" y="277.11" width="2" height="38.54" fill="#f0452f"/>
<rect x="1278.0" y="315.64" width="2" height="25.69" fill="#a9abb8"/>
<rect x="1259.9" y="277.11" width="38.2" height="64.23" fill="none" stroke="#b6b8c6" stroke-width="1.35"/>
<path d="M1259.25 277.11 h39.50 M1259.25 341.33 h39.50" stroke="#d9dae2" stroke-width="1.4" fill="none"/>
<rect x="1259.9" y="302.80" width="38.2" height="12.85" fill="rgba(69,94,174,0.5)"/>
<g font-size="4.10" font-weight="bold" text-anchor="middle" fill="#f2f2f5" transform="scale(1.160,1)">
<text x="1094.3" y="285.0">0</text>
<text x="1110.9" y="285.0" fill="#d8453a" font-weight="normal">912</text>
<text x="1094.3" y="297.9">78</text>
<text x="1110.9" y="297.9">1408</text>
<text x="1094.3" y="310.7">2048</text>
<text x="1110.9" y="310.7">1886</text>
<text x="1094.3" y="323.6">1287</text>
<text x="1110.9" y="323.6">818</text>
<text x="1094.3" y="336.4">184</text>
<text x="1110.9" y="336.4">0</text>
<text x="1094.3" y="272.0">0</text><text x="1102.6" y="271.7" fill="#7d8096" font-size="5.2">:</text><text x="1110.9" y="272.0">1</text>
</g>
<text x="1102.6" y="349.2" font-size="4.10" text-anchor="middle" fill="#b53a32" transform="scale(1.160,1)">712</text>
<rect x="1325.0" y="251.42" width="2" height="12.85" fill="#a9abb8"/>
<rect x="1325.0" y="264.26" width="2" height="25.69" fill="#f0452f"/>
<rect x="1325.0" y="289.95" width="2" height="12.85" fill="#a9abb8"/>
<rect x="1306.9" y="251.42" width="38.2" height="51.38" fill="none" stroke="#b6b8c6" stroke-width="1.35"/>
<path d="M1306.25 251.42 h39.50 M1306.25 302.80 h39.50" stroke="#d9dae2" stroke-width="1.4" fill="none"/>
<rect x="1306.9" y="264.26" width="38.2" height="12.85" fill="rgba(69,94,174,0.5)"/>
<g font-size="4.10" font-weight="bold" text-anchor="middle" fill="#f2f2f5" transform="scale(1.160,1)">
<text x="1134.8" y="259.3">0</text>
<text x="1151.4" y="259.3">2428</text>
<text x="1134.8" y="272.2">1086</text>
<text x="1151.4" y="272.2" fill="#d8453a" font-weight="normal">2887</text>
<text x="1134.8" y="285.0">805</text>
<text x="1151.4" y="285.0">2609</text>
<text x="1134.8" y="297.9">2098</text>
<text x="1151.4" y="297.9">0</text>
<text x="1134.8" y="246.3">0</text><text x="1143.1" y="246.0" fill="#7d8096" font-size="5.2">:</text><text x="1151.4" y="246.3">1</text>
</g>
<text x="1143.1" y="310.7" font-size="4.10" text-anchor="middle" fill="#b53a32" transform="scale(1.160,1)">4640</text>
<rect x="1373.0" y="251.42" width="2" height="12.85" fill="#a9abb8"/>
<rect x="1373.0" y="264.26" width="2" height="25.69" fill="#1fa21f"/>
<rect x="1373.0" y="289.95" width="2" height="12.85" fill="#a9abb8"/>
<rect x="1354.9" y="251.42" width="38.2" height="51.38" fill="none" stroke="#b6b8c6" stroke-width="1.35"/>
<path d="M1354.25 251.42 h39.50 M1354.25 302.80 h39.50" stroke="#d9dae2" stroke-width="1.4" fill="none"/>
<rect x="1354.9" y="264.26" width="38.2" height="12.85" fill="rgba(69,94,174,0.5)"/>
<g font-size="4.10" font-weight="bold" text-anchor="middle" fill="#f2f2f5" transform="scale(1.160,1)">
<text x="1176.2" y="259.3">0</text>
<text x="1192.8" y="259.3">1459</text>
<text x="1176.2" y="272.2">1559</text>
<text x="1192.8" y="272.2">2052</text>
<text x="1176.2" y="285.0">925</text>
<text x="1192.8" y="285.0">524</text>
<text x="1176.2" y="297.9">1258</text>
<text x="1192.8" y="297.9">164</text>
<text x="1176.2" y="246.3">0</text><text x="1184.5" y="246.0" fill="#7d8096" font-size="5.2">:</text><text x="1192.8" y="246.3">0</text>
</g>
<text x="1184.5" y="310.7" font-size="4.10" text-anchor="middle" fill="#b53a32" transform="scale(1.160,1)">452</text>
<rect x="1421.0" y="238.57" width="2" height="51.38" fill="#f0452f"/>
<rect x="1421.0" y="289.95" width="2" height="12.85" fill="#a9abb8"/>
<rect x="1402.9" y="238.57" width="38.2" height="64.23" fill="none" stroke="#b6b8c6" stroke-width="1.35"/>
<path d="M1402.25 238.57 h39.50 M1402.25 302.80 h39.50" stroke="#d9dae2" stroke-width="1.4" fill="none"/>
<rect x="1402.9" y="251.41" width="38.2" height="12.85" fill="rgba(69,94,174,0.5)"/>
<g font-size="4.10" font-weight="bold" text-anchor="middle" fill="#f2f2f5" transform="scale(1.160,1)">
<text x="1217.6" y="246.5">0</text>
<text x="1234.1" y="246.5">576</text>
<text x="1217.6" y="259.3">576</text>
<text x="1234.1" y="259.3">1920</text>
<text x="1217.6" y="272.2">714</text>
<text x="1234.1" y="272.2">1052</text>
<text x="1217.6" y="285.0">918</text>
<text x="1234.1" y="285.0" fill="#d8453a" font-weight="normal">108</text>
<text x="1217.6" y="297.9">8</text>
<text x="1234.1" y="297.9">0</text>
<text x="1217.6" y="233.5">0</text><text x="1225.9" y="233.2" fill="#7d8096" font-size="5.2">:</text><text x="1234.1" y="233.5">1</text>
</g>
<text x="1225.9" y="310.7" font-size="4.10" text-anchor="middle" fill="#b53a32" transform="scale(1.160,1)">1025</text>
<rect x="1468.0" y="212.88" width="2" height="38.54" fill="#f0452f"/>
<rect x="1468.0" y="251.41" width="2" height="12.85" fill="#a9abb8"/>
<rect x="1449.9" y="212.88" width="38.2" height="51.38" fill="none" stroke="#b6b8c6" stroke-width="1.35"/>
<path d="M1449.25 212.88 h39.50 M1449.25 264.26 h39.50" stroke="#d9dae2" stroke-width="1.4" fill="none"/>
<rect x="1449.9" y="225.72" width="38.2" height="12.85" fill="rgba(69,94,174,0.5)"/>
<g font-size="4.10" font-weight="bold" text-anchor="middle" fill="#f2f2f5" transform="scale(1.160,1)">
<text x="1258.1" y="220.8">0</text>
<text x="1274.7" y="220.8">907</text>
<text x="1258.1" y="233.6">1296</text>
<text x="1274.7" y="233.6">2808</text>
<text x="1258.1" y="246.5">1756</text>
<text x="1274.7" y="246.5">1922</text>
<text x="1258.1" y="259.3">1014</text>
<text x="1274.7" y="259.3">0</text>
<text x="1258.1" y="207.8">0</text><text x="1266.4" y="207.5" fill="#7d8096" font-size="5.2">:</text><text x="1274.7" y="207.8">0</text>
</g>
<text x="1266.4" y="272.2" font-size="4.10" text-anchor="middle" fill="#b53a32" transform="scale(1.160,1)">1574</text>
<rect x="1516.0" y="200.03" width="2" height="12.85" fill="#a9abb8"/>
<rect x="1516.0" y="212.88" width="2" height="51.38" fill="#1fa21f"/>
<rect x="1516.0" y="264.26" width="2" height="12.85" fill="#a9abb8"/>
<rect x="1497.9" y="200.03" width="38.2" height="77.07" fill="none" stroke="#b6b8c6" stroke-width="1.35"/>
<path d="M1497.25 200.03 h39.50 M1497.25 277.11 h39.50" stroke="#d9dae2" stroke-width="1.4" fill="none"/>
<rect x="1497.9" y="238.57" width="38.2" height="12.85" fill="rgba(69,94,174,0.5)"/>
<g font-size="4.10" font-weight="bold" text-anchor="middle" fill="#f2f2f5" transform="scale(1.160,1)">
<text x="1299.5" y="208.0">0</text>
<text x="1316.0" y="208.0">1467</text>
<text x="1299.5" y="220.8">1451</text>
<text x="1316.0" y="220.8">922</text>
<text x="1299.5" y="233.6">595</text>
<text x="1316.0" y="233.6">555</text>
<text x="1299.5" y="246.5" fill="#2b9a2b" font-weight="normal">1864</text>
<text x="1316.0" y="246.5">876</text>
<text x="1299.5" y="259.3">1776</text>
<text x="1316.0" y="259.3" fill="#d8453a" font-weight="normal">112</text>
<text x="1299.5" y="272.2">28</text>
<text x="1316.0" y="272.2">0</text>
<text x="1299.5" y="194.9">1</text><text x="1307.8" y="194.6" fill="#7d8096" font-size="5.2">:</text><text x="1316.0" y="194.9">1</text>
</g>
<text x="1307.8" y="285.0" font-size="4.10" text-anchor="middle" fill="#238a23" transform="scale(1.160,1)">-1679</text>
<rect x="1564.0" y="187.19" width="2" height="77.07" fill="#f0452f"/>
<rect x="1545.9" y="187.19" width="38.2" height="77.07" fill="none" stroke="#b6b8c6" stroke-width="1.35"/>
<path d="M1545.25 187.19 h39.50 M1545.25 264.26 h39.50" stroke="#d9dae2" stroke-width="1.4" fill="none"/>
<rect x="1545.9" y="212.88" width="38.2" height="12.85" fill="rgba(69,94,174,0.5)"/>
<g font-size="4.10" font-weight="bold" text-anchor="middle" fill="#f2f2f5" transform="scale(1.160,1)">
<text x="1340.9" y="195.1">0</text>
<text x="1357.4" y="195.1">1194</text>
<text x="1340.9" y="208.0">440</text>
<text x="1357.4" y="208.0">2024</text>
<text x="1340.9" y="220.8">1558</text>
<text x="1357.4" y="220.8" fill="#d8453a" font-weight="normal">2874</text>
<text x="1340.9" y="233.6">769</text>
<text x="1357.4" y="233.6" fill="#d8453a" font-weight="normal">547</text>
<text x="1340.9" y="246.5">114</text>
<text x="1357.4" y="246.5" fill="#d8453a" font-weight="normal">469</text>
<text x="1340.9" y="259.3">35</text>
<text x="1357.4" y="259.3">0</text>
<text x="1340.9" y="182.1">0</text><text x="1349.1" y="181.8" fill="#7d8096" font-size="5.2">:</text><text x="1357.4" y="182.1">3</text>
</g>
<text x="1349.1" y="272.2" font-size="4.10" text-anchor="middle" fill="#b53a32" transform="scale(1.160,1)">4161</text>
<rect x="1611.0" y="187.19" width="2" height="12.85" fill="#a9abb8"/>
<rect x="1611.0" y="200.03" width="2" height="38.54" fill="#1fa21f"/>
<rect x="1611.0" y="238.57" width="2" height="12.85" fill="#a9abb8"/>
<rect x="1592.9" y="187.19" width="38.2" height="64.23" fill="none" stroke="#b6b8c6" stroke-width="1.35"/>
<path d="M1592.25 187.19 h39.50 M1592.25 251.42 h39.50" stroke="#d9dae2" stroke-width="1.4" fill="none"/>
<rect x="1592.9" y="225.72" width="38.2" height="12.85" fill="rgba(69,94,174,0.5)"/>
<g font-size="4.10" font-weight="bold" text-anchor="middle" fill="#f2f2f5" transform="scale(1.160,1)">
<text x="1381.4" y="195.1">0</text>
<text x="1397.9" y="195.1">619</text>
<text x="1381.4" y="208.0">768</text>
<text x="1397.9" y="208.0">1504</text>
<text x="1381.4" y="220.8">968</text>
<text x="1397.9" y="220.8">280</text>
<text x="1381.4" y="233.6" fill="#2b9a2b" font-weight="normal">1240</text>
<text x="1397.9" y="233.6">8762</text>
<text x="1381.4" y="246.5">8209</text>
<text x="1397.9" y="246.5">0</text>
<text x="1381.4" y="182.1">1</text><text x="1389.7" y="181.8" fill="#7d8096" font-size="5.2">:</text><text x="1397.9" y="182.1">0</text>
</g>
<text x="1389.7" y="259.3" font-size="4.10" text-anchor="middle" fill="#b53a32" transform="scale(1.160,1)">90</text>
</g>
<g fill="#525669" font-size="12.5" stroke="#525669" stroke-width="0.25" opacity="0.85">
<text x="14" y="162.2">840.0</text>
<text x="14" y="290.7">835.0</text>
<text x="14" y="419.1">830.0</text>
<text x="14" y="547.6">825.0</text>
<text x="14" y="676.0">820.0</text>
<text x="14" y="804.5">815.0</text>
</g>
<rect x="1887.2" y="188.29" width="7.6" height="10.55" fill="#4a6bc8"/>
<text x="1891" y="194.8" font-size="3.4" font-weight="bold" fill="#fff" text-anchor="middle">VAH</text>
<rect x="1894.8" y="188.29" width="17.2" height="10.55" fill="#239023"/>
<rect x="1856.4" y="201.13" width="9.9" height="10.55" fill="#b0332d"/>
<rect x="1866.3" y="201.13" width="45.7" height="10.55" fill="#1f741c"/>
<rect x="1837.5" y="213.98" width="33.1" height="10.55" fill="#b0332d"/>
<rect x="1870.6" y="213.98" width="41.4" height="10.55" fill="#1f741c"/>
<rect x="1813.7" y="226.83" width="33.1" height="10.55" fill="#b0332d"/>
<rect x="1846.8" y="226.83" width="65.2" height="10.55" fill="#1f741c"/>
<rect x="1819.9" y="239.67" width="60.0" height="10.55" fill="#b0332d"/>
<rect x="1879.9" y="239.67" width="32.1" height="10.55" fill="#1f741c"/>
<rect x="1835.2" y="252.52" width="29.5" height="10.55" fill="#b0332d"/>
<rect x="1864.7" y="252.52" width="47.3" height="10.55" fill="#1f741c"/>
<rect x="1832.2" y="265.36" width="28.8" height="10.55" fill="#b0332d"/>
<rect x="1861.0" y="265.36" width="51.0" height="10.55" fill="#1f741c"/>
<rect x="1853.7" y="278.21" width="22.9" height="10.55" fill="#b0332d"/>
<rect x="1876.6" y="278.21" width="35.4" height="10.55" fill="#1f741c"/>
<rect x="1860.0" y="291.05" width="32.2" height="10.55" fill="#b0332d"/>
<rect x="1892.2" y="291.05" width="19.8" height="10.55" fill="#1f741c"/>
<rect x="1842.8" y="303.90" width="27.8" height="10.55" fill="#b0332d"/>
<rect x="1870.6" y="303.90" width="41.4" height="10.55" fill="#1f741c"/>
<rect x="1836.8" y="316.74" width="39.1" height="10.55" fill="#b0332d"/>
<rect x="1875.9" y="316.74" width="36.1" height="10.55" fill="#1f741c"/>
<rect x="1791.8" y="329.59" width="39.7" height="10.55" fill="#b0332d"/>
<rect x="1831.5" y="329.59" width="80.5" height="10.55" fill="#1f741c"/>
<rect x="1808.3" y="342.43" width="55.4" height="10.55" fill="#b0332d"/>
<rect x="1863.7" y="342.43" width="48.3" height="10.55" fill="#1f741c"/>
<rect x="1723.9" y="355.28" width="8.2" height="10.55" fill="#d6b35c"/>
<text x="1728.0" y="361.7" font-size="3.4" font-weight="bold" fill="#fff" text-anchor="middle">POC</text>
<rect x="1732.1" y="355.28" width="79.9" height="10.55" fill="#ea4a3f"/>
<rect x="1812.0" y="355.28" width="100.0" height="10.55" fill="#239023"/>
<rect x="1849.1" y="368.12" width="55.7" height="10.55" fill="#b0332d"/>
<rect x="1904.8" y="368.12" width="7.2" height="10.55" fill="#1f741c"/>
<rect x="1895.5" y="380.97" width="3.3" height="10.55" fill="#b0332d"/>
<rect x="1898.8" y="380.97" width="13.2" height="10.55" fill="#1f741c"/>
<rect x="1908.0" y="393.81" width="4.0" height="10.55" fill="#1f741c"/>
<rect x="1868.3" y="406.66" width="10.0" height="10.55" fill="#b0332d"/>
<rect x="1878.3" y="406.66" width="33.7" height="10.55" fill="#1f741c"/>
<rect x="1898.8" y="419.50" width="5.3" height="10.55" fill="#b0332d"/>
<rect x="1904.1" y="419.50" width="7.9" height="10.55" fill="#1f741c"/>
<rect x="1888.2" y="432.35" width="23.8" height="10.55" fill="#1f741c"/>
<rect x="1903.4" y="445.19" width="2.6" height="10.55" fill="#b0332d"/>
<rect x="1906.0" y="445.19" width="6.0" height="10.55" fill="#1f741c"/>
<rect x="1880.9" y="458.04" width="10.0" height="10.55" fill="#b0332d"/>
<rect x="1890.9" y="458.04" width="21.1" height="10.55" fill="#1f741c"/>
<rect x="1890.7" y="470.88" width="9.3" height="10.55" fill="#b0332d"/>
<rect x="1900.0" y="470.88" width="12.0" height="10.55" fill="#1f741c"/>
<rect x="1896.4" y="483.73" width="1.4" height="10.55" fill="#b0332d"/>
<rect x="1897.8" y="483.73" width="14.2" height="10.55" fill="#1f741c"/>
<rect x="1885.1" y="496.57" width="12.0" height="10.55" fill="#b0332d"/>
<rect x="1897.1" y="496.57" width="14.9" height="10.55" fill="#1f741c"/>
<rect x="1845.5" y="509.42" width="21.0" height="10.55" fill="#b0332d"/>
<rect x="1866.5" y="509.42" width="45.5" height="10.55" fill="#1f741c"/>
<rect x="1842.9" y="522.26" width="20.0" height="10.55" fill="#b0332d"/>
<rect x="1862.9" y="522.26" width="49.1" height="10.55" fill="#1f741c"/>
<rect x="1784.0" y="535.11" width="7.6" height="10.55" fill="#c653c6"/>
<text x="1787.8" y="541.6" font-size="3.4" font-weight="bold" fill="#fff" text-anchor="middle">VAL</text>
<rect x="1791.6" y="535.11" width="53.5" height="10.55" fill="#ea4a3f"/>
<rect x="1845.1" y="535.11" width="66.9" height="10.55" fill="#239023"/>
<rect x="1867.6" y="547.95" width="35.3" height="10.55" fill="#6b2a3a"/>
<rect x="1902.9" y="547.95" width="9.1" height="10.55" fill="#44512a"/>
<rect x="1890.5" y="560.79" width="9.1" height="10.55" fill="#6b2a3a"/>
<rect x="1899.6" y="560.79" width="12.4" height="10.55" fill="#44512a"/>
<rect x="1895.6" y="573.64" width="5.9" height="10.55" fill="#6b2a3a"/>
<rect x="1901.5" y="573.64" width="10.5" height="10.55" fill="#44512a"/>
<rect x="1897.5" y="586.49" width="5.4" height="10.55" fill="#6b2a3a"/>
<rect x="1902.9" y="586.49" width="9.1" height="10.55" fill="#44512a"/>
<rect x="1890.2" y="599.33" width="7.6" height="10.55" fill="#6b2a3a"/>
<rect x="1897.8" y="599.33" width="14.2" height="10.55" fill="#44512a"/>
<rect x="1850.9" y="612.18" width="26.9" height="10.55" fill="#6b2a3a"/>
<rect x="1877.8" y="612.18" width="34.2" height="10.55" fill="#44512a"/>
<rect x="1872.0" y="625.02" width="18.5" height="10.55" fill="#6b2a3a"/>
<rect x="1890.5" y="625.02" width="21.5" height="10.55" fill="#44512a"/>
<rect x="1902.9" y="637.87" width="7.3" height="10.55" fill="#6b2a3a"/>
<rect x="1910.2" y="637.87" width="1.8" height="10.55" fill="#44512a"/>
<rect x="1899.6" y="650.71" width="5.5" height="10.55" fill="#6b2a3a"/>
<rect x="1905.1" y="650.71" width="6.9" height="10.55" fill="#44512a"/>
<rect x="1888.7" y="663.56" width="2.6" height="10.55" fill="#6b2a3a"/>
<rect x="1891.3" y="663.56" width="20.7" height="10.55" fill="#44512a"/>
<rect x="1854.2" y="676.40" width="28.0" height="10.55" fill="#6b2a3a"/>
<rect x="1882.2" y="676.40" width="29.8" height="10.55" fill="#44512a"/>
<rect x="1836.7" y="689.25" width="28.4" height="10.55" fill="#6b2a3a"/>
<rect x="1865.1" y="689.25" width="46.9" height="10.55" fill="#44512a"/>
<rect x="1839.3" y="702.09" width="44.7" height="10.55" fill="#6b2a3a"/>
<rect x="1884.0" y="702.09" width="28.0" height="10.55" fill="#44512a"/>
<rect x="1860.7" y="714.94" width="33.8" height="10.55" fill="#6b2a3a"/>
<rect x="1894.5" y="714.94" width="17.5" height="10.55" fill="#44512a"/>
<rect x="1893.1" y="727.78" width="16.4" height="10.55" fill="#6b2a3a"/>
<rect x="1909.5" y="727.78" width="2.5" height="10.55" fill="#44512a"/>
<rect x="1894.2" y="740.62" width="8.7" height="10.55" fill="#6b2a3a"/>
<rect x="1902.9" y="740.62" width="9.1" height="10.55" fill="#44512a"/>
<rect x="1879.6" y="753.47" width="17.1" height="10.55" fill="#6b2a3a"/>
<rect x="1896.7" y="753.47" width="15.3" height="10.55" fill="#44512a"/>
<rect x="1885.1" y="766.32" width="20.7" height="10.55" fill="#6b2a3a"/>
<rect x="1905.8" y="766.32" width="6.2" height="10.55" fill="#44512a"/>
<rect x="1905.5" y="779.16" width="6.5" height="10.55" fill="#6b2a3a"/>
<g fill="#2e3249">
<rect x="8" y="880.8" width="1904" height="1.3"/><rect x="8" y="904.4" width="1904" height="1.2"/><rect x="960" y="882" width="1" height="23"/>
</g>
<g fill="#50566a" font-size="12.6" text-anchor="middle" stroke="#50566a" stroke-width="0.3">
<text x="85.0" y="918.7">10:05</text>
<text x="228.0" y="918.7">10:35</text>
<text x="371.0" y="918.7">10:50</text>
<text x="514.0" y="918.7">11:05</text>
<text x="657.0" y="918.7">11:20</text>
<text x="800.0" y="918.7">13:35</text>
<text x="943.0" y="918.7">13:50</text>
<text x="1086.0" y="918.7">14:05</text>
<text x="1229.0" y="918.7">14:20</text>
<text x="1372.0" y="918.7">14:35</text>
<text x="1515.0" y="918.7">14:50</text>
</g>
<text x="484" y="897.5" font-size="13" font-weight="bold" text-anchor="middle" fill="#4a72d9" font-family="Liberation Sans, Noto Sans CJK SC, sans-serif">信号点</text>
<text x="1436" y="897.5" font-size="13" text-anchor="middle" fill="#9a9ca8" stroke="#9a9ca8" stroke-width="0.3">Cum Delta</text>
<defs><linearGradient id="gr" x1="0" y1="0" x2="0" y2="1"><stop offset="0" stop-color="#702a36"/><stop offset="1" stop-color="#2d1a30"/></linearGradient><linearGradient id="gg" x1="0" y1="0" x2="0" y2="1"><stop offset="0" stop-color="#225448"/><stop offset="1" stop-color="#172f3a"/></linearGradient><filter id="bl" x="-20%" y="-20%" width="140%" height="140%"><feGaussianBlur stdDeviation="0.5"/></filter></defs>
<circle cx="135.0" cy="870.4" r="7.7" fill="url(#gg)" filter="url(#bl)"/>
<circle cx="136.5" cy="872.5" r="1.9" fill="none" stroke="#22a522" stroke-width="1.5"/><path d="M137.8 870.4 L131.9 867.9 L134.4 873.6 z" fill="#22a522"/>
<circle cx="182.0" cy="870.4" r="7.7" fill="url(#gr)" filter="url(#bl)"/>
<path d="M182.0 866.8 l3.9 3.8 h-2 v5.100 h-3.800 v-5.100 h-2 z" fill="#f04a3a"/>
<circle cx="516.0" cy="870.4" r="7.7" fill="url(#gg)" filter="url(#bl)"/>
<path d="M516.0 874.0 l3.7 -6.9 h-7.400 z" fill="#22a522"/>
<circle cx="659.0" cy="870.4" r="7.7" fill="url(#gr)" filter="url(#bl)"/>
<path d="M659.0 866.8 l3.9 3.8 h-2 v5.100 h-3.800 v-5.100 h-2 z" fill="#f04a3a"/>
<circle cx="850.0" cy="870.4" r="7.7" fill="url(#gr)" filter="url(#bl)"/>
<path d="M850.0 867.1 l3.7 6.9 h-7.400 z" fill="#f04a3a"/>
<circle cx="1040.0" cy="870.4" r="7.7" fill="url(#gr)" filter="url(#bl)"/>
<circle cx="1038.3" cy="872.7" r="1.9" fill="none" stroke="#f04a3a" stroke-width="1.5"/><path d="M1037.0 870.6 L1042.9 867.9 L1040.4 873.8 z" fill="#f04a3a"/>
<circle cx="1088.0" cy="870.4" r="7.7" fill="url(#gr)" filter="url(#bl)"/>
<path d="M1088.0 867.1 l3.7 6.9 h-7.400 z" fill="#f04a3a"/>
<circle cx="1326.0" cy="870.4" r="7.7" fill="url(#gr)" filter="url(#bl)"/>
<path d="M1326.0 867.1 l3.7 6.9 h-7.400 z" fill="#f04a3a"/>
<circle cx="1469.0" cy="870.4" r="7.7" fill="url(#gr)" filter="url(#bl)"/>
<path d="M1469.0 867.1 l3.7 6.9 h-7.400 z" fill="#f04a3a"/>
<circle cx="1565.0" cy="870.4" r="7.7" fill="url(#gr)" filter="url(#bl)"/>
<path d="M1565.0 865.8 l4.4 2.3 l-4.4 2.3 l-4.4 -2.3 z" fill="#f04a3a" opacity="0.5"/>
<path d="M1565.0 868.0 l4.4 2.3 l-4.4 2.3 l-4.4 -2.3 z" fill="#f04a3a" opacity="0.6"/>
<path d="M1565.0 870.6 l4.4 2.3 l-4.4 2.3 l-4.4 -2.3 z" fill="#f04a3a"/>
</svg>
</body></html>
